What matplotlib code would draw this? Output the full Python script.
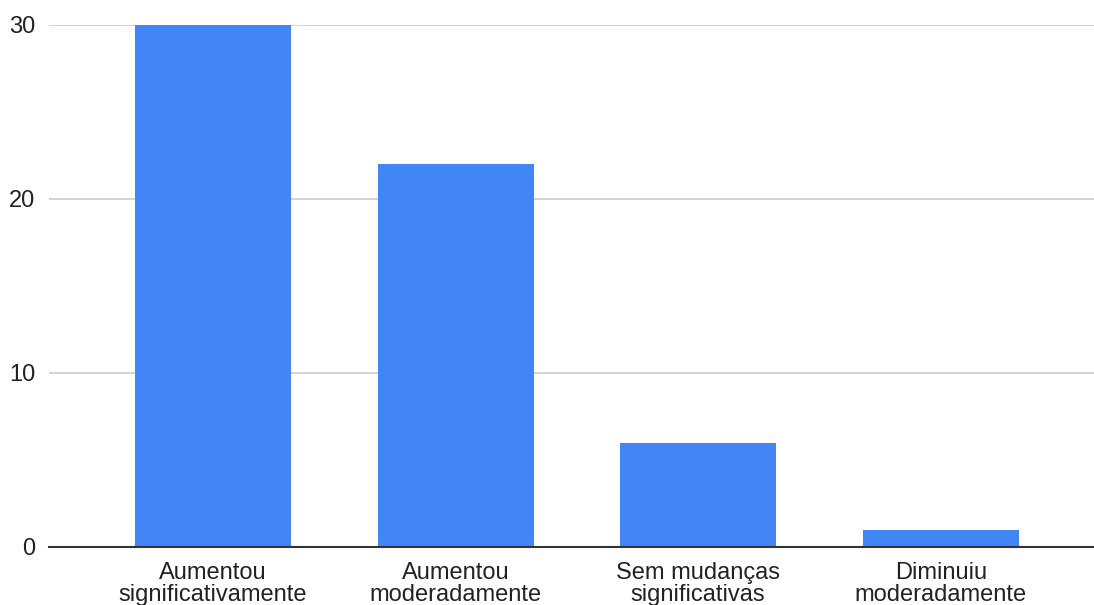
import matplotlib.pyplot as plt

# Respostas por categoria
categorias = ["Aumentou\nsignificativamente", "Aumentou\nmoderadamente",
              "Sem mudanças\nsignificativas", "Diminuiu\nmoderadamente"]
valores = [30, 22, 6, 1]
yticks = [0, 10, 20, 30]

plt.rcParams['font.family'] = ['Liberation Sans', 'DejaVu Sans']

fig = plt.figure(figsize=(10.94, 6.05), dpi=100)
# axes run a little past the right edge of the figure
ax = fig.add_axes([0.0448, 0.0959, 0.965, 0.8628])

x = list(range(len(categorias)))
ax.bar(x, valores, width=0.643, color='#4285f4', zorder=3)

ax.set_xlim(-0.676, len(categorias) - 1 + 0.676)
ax.set_ylim(0, 30)
ax.set_yticks(yticks)
ax.set_xticks(x)
ax.set_xticklabels(categorias, fontsize=17, color='#222222', linespacing=1.0)
ax.tick_params(axis='y', length=0, pad=10, labelsize=17, labelcolor='#222222')
ax.tick_params(axis='x', length=0, pad=11)

ax.grid(axis='y', color='#cccccc', linewidth=1.2, zorder=0)
for s in ['top', 'right', 'left']:
    ax.spines[s].set_visible(False)
ax.spines['bottom'].set_color('#333333')
ax.spines['bottom'].set_linewidth(1.5)
ax.spines['bottom'].set_zorder(4)

fig.savefig('out.png', dpi=100)
